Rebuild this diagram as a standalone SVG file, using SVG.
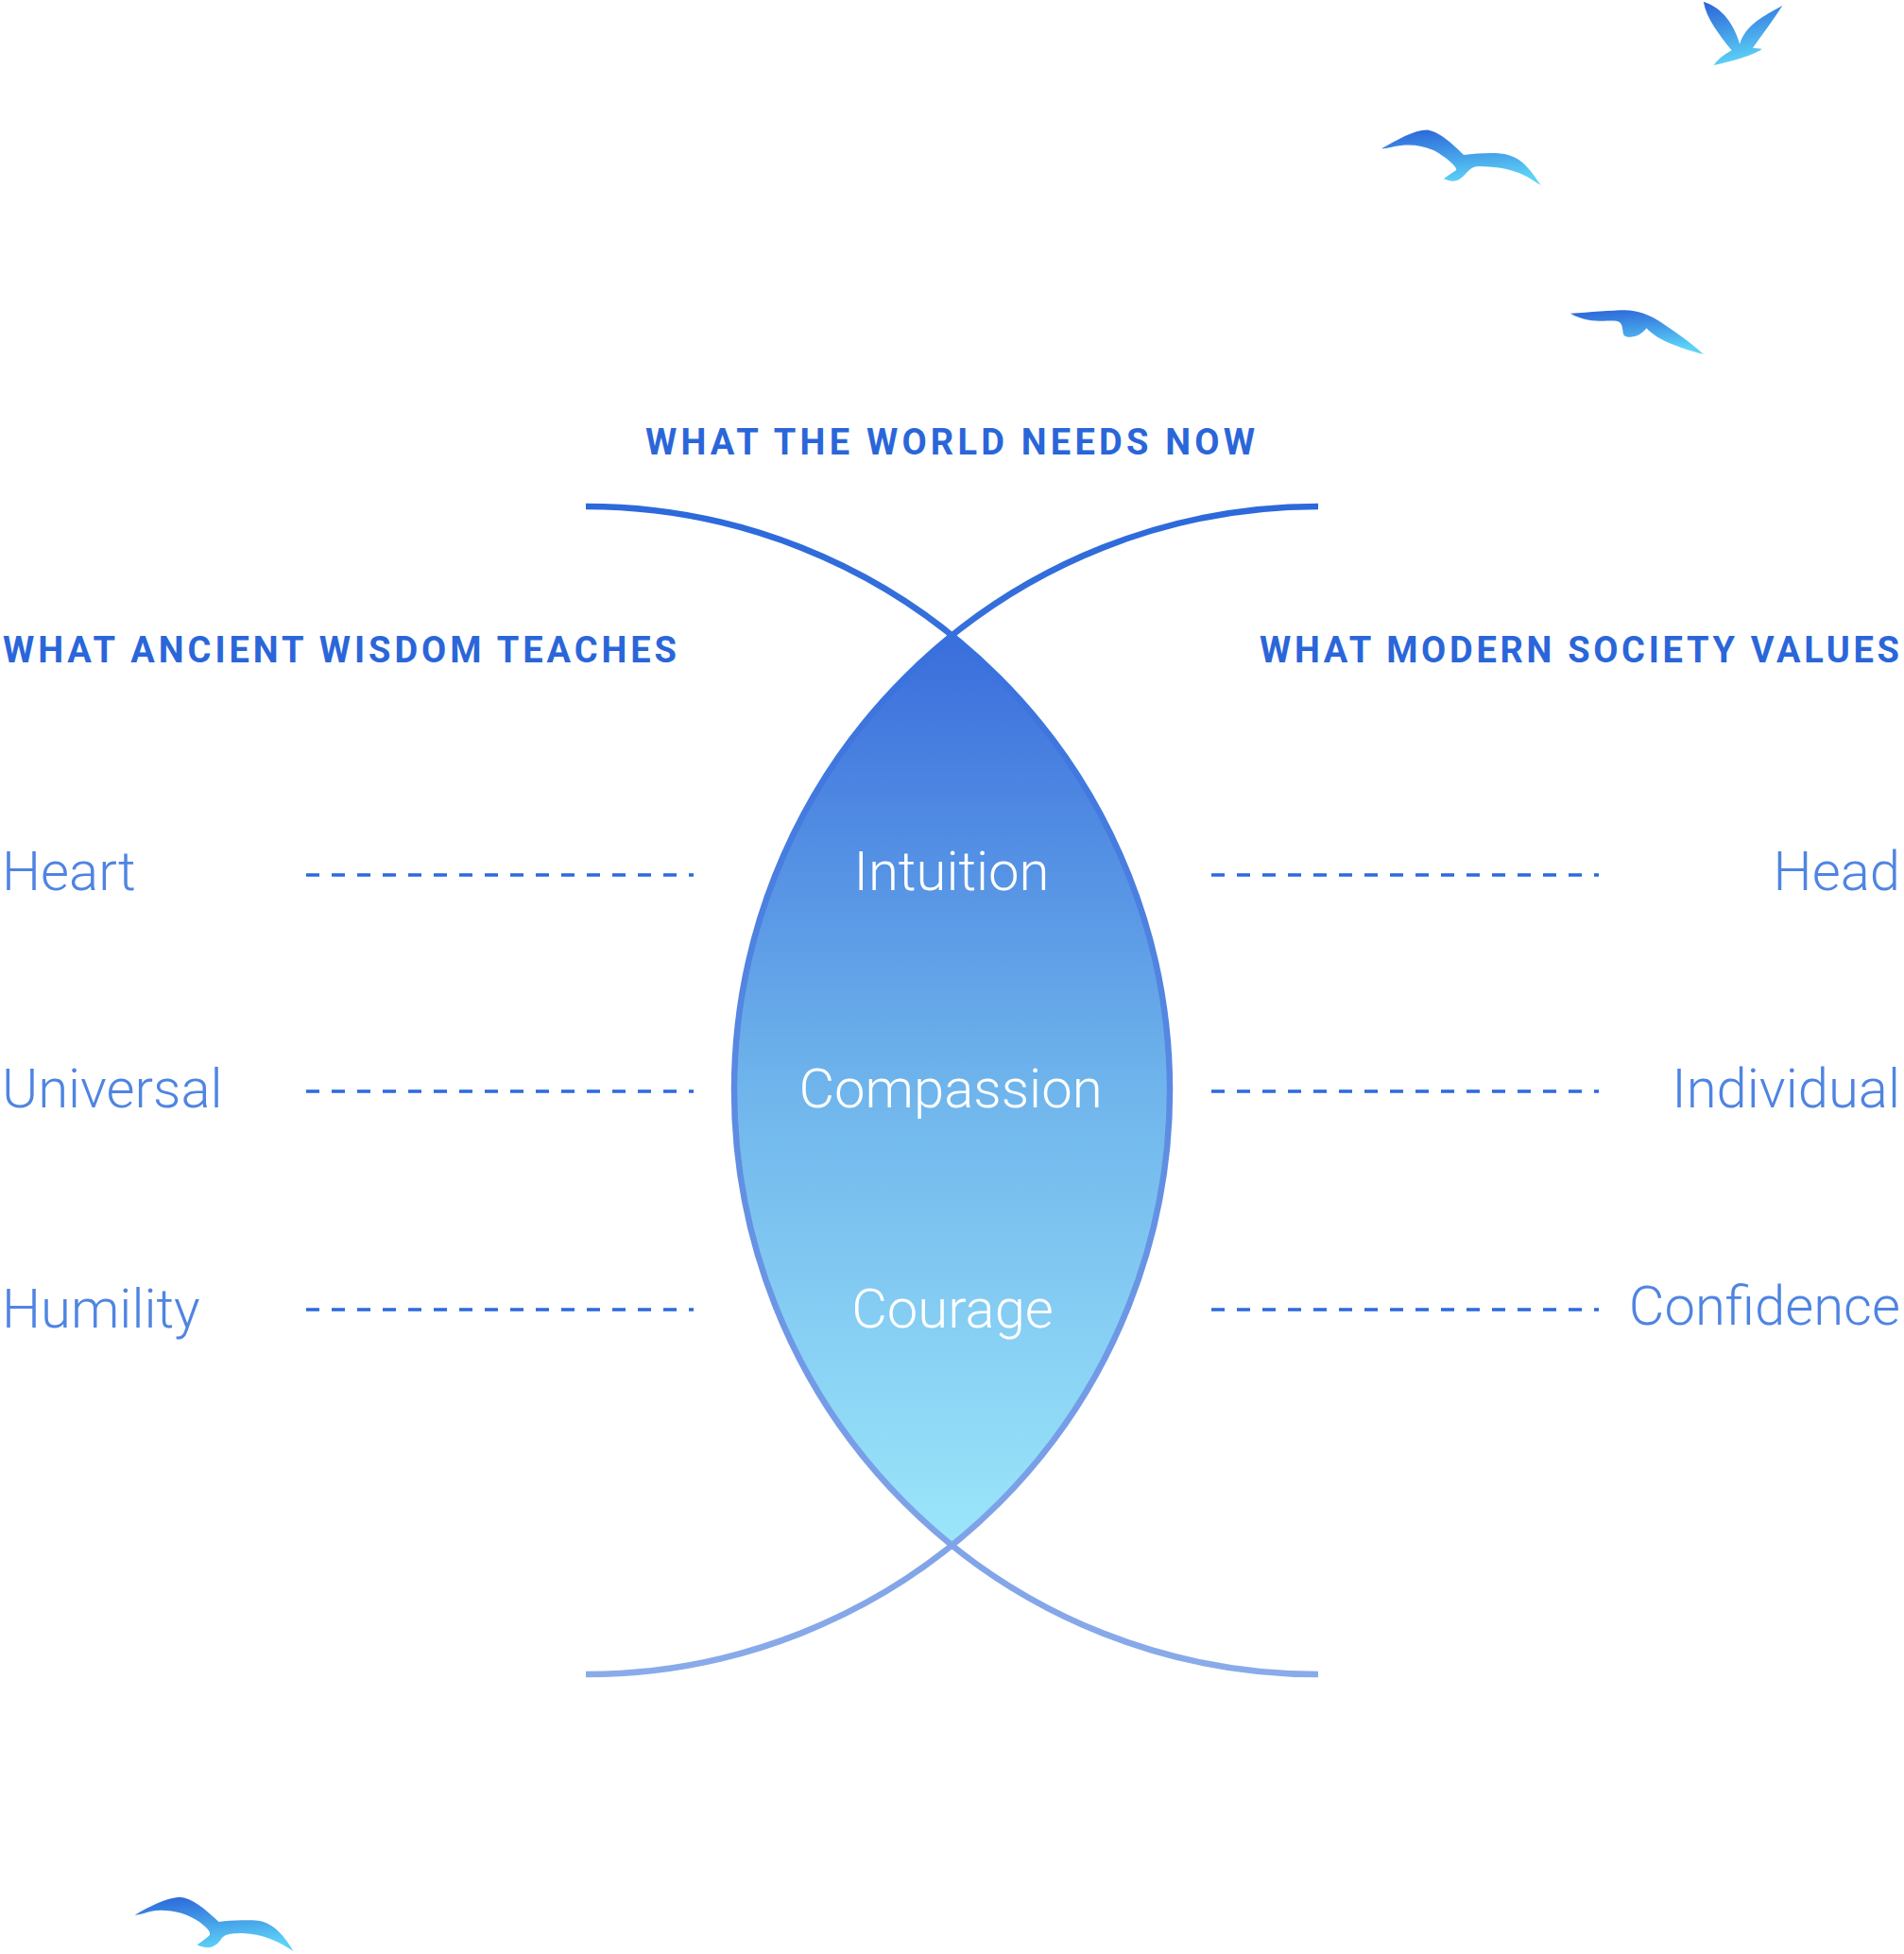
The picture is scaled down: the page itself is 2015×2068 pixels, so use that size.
<svg xmlns="http://www.w3.org/2000/svg" width="2015" height="2068" viewBox="0 0 2015 2068">
  <defs>
    <linearGradient id="lensFill" gradientUnits="userSpaceOnUse" x1="0" y1="672" x2="0" y2="1635">
      <stop offset="0" stop-color="#3a6ddc"/>
      <stop offset="0.5" stop-color="#6fb5ec"/>
      <stop offset="1" stop-color="#9ce6fa"/>
    </linearGradient>
    <linearGradient id="arcStroke" gradientUnits="userSpaceOnUse" x1="0" y1="536" x2="0" y2="1772">
      <stop offset="0" stop-color="#2c69db"/>
      <stop offset="1" stop-color="#8aabea"/>
    </linearGradient>
    <linearGradient id="birdFill" x1="0" y1="0" x2="0.25" y2="1">
      <stop offset="0" stop-color="#2a62d8"/>
      <stop offset="1" stop-color="#5cd2f6"/>
    </linearGradient>
    <style>
      .title { font-family: Roboto, "Liberation Sans", sans-serif; font-weight: 700; font-size: 38px; fill: #2a66d9; }
      .label { font-family: Roboto, "Liberation Sans", sans-serif; font-weight: 300; font-size: 58px; fill: #4f84e2; }
      .inner { font-family: Roboto, "Liberation Sans", sans-serif; font-weight: 300; font-size: 58px; fill: #ffffff; text-anchor: middle; }
      .dash { stroke: #2d6ade; stroke-width: 3.5; stroke-dasharray: 14 13; fill: none; }
      .arc { stroke: url(#arcStroke); stroke-width: 6.5; fill: none; }
      .bird { fill: url(#birdFill); }
    </style>
  </defs>

  <g id="lens">
    <path d="M 1007.5 672.6 A 618 618 0 0 1 1007.5 1635.4 A 618 618 0 0 1 1007.5 672.6 Z" fill="url(#lensFill)"/>
  </g>

  <g id="connectors">
    <path class="arc" d="M 620 536 A 618 618 0 0 1 620 1772"/>
    <path class="arc" d="M 1395 536 A 618 618 0 0 0 1395 1772"/>
    <line class="dash" x1="324" y1="926" x2="734" y2="926"/>
    <line class="dash" x1="324" y1="1155" x2="734" y2="1155"/>
    <line class="dash" x1="324" y1="1386" x2="734" y2="1386"/>
    <line class="dash" x1="1282" y1="926" x2="1692" y2="926"/>
    <line class="dash" x1="1282" y1="1155" x2="1692" y2="1155"/>
    <line class="dash" x1="1282" y1="1386" x2="1692" y2="1386"/>
  </g>

  <g id="title-top"><text class="title" x="683" y="481" textLength="645" lengthAdjust="spacing">WHAT THE WORLD NEEDS NOW</text></g>
  <g id="title-left"><text class="title" x="3" y="701" textLength="713" lengthAdjust="spacing">WHAT ANCIENT WISDOM TEACHES</text></g>
  <g id="title-right"><text class="title" x="1333" y="701" textLength="677" lengthAdjust="spacing">WHAT MODERN SOCIETY VALUES</text></g>

  <g id="node-heart"><text class="label" x="2" y="942">Heart</text></g>
  <g id="node-universal"><text class="label" x="2" y="1172">Universal</text></g>
  <g id="node-humility"><text class="label" x="2" y="1405">Humility</text></g>

  <g id="node-intuition"><text class="inner" x="1007" y="942">Intuition</text></g>
  <g id="node-compassion"><text class="inner" x="1006" y="1172">Compassion</text></g>
  <g id="node-courage"><text class="inner" x="1008" y="1405">Courage</text></g>

  <g id="node-head"><text class="label" x="2011" y="942" text-anchor="end">Head</text></g>
  <g id="node-individual"><text class="label" x="2011" y="1172" text-anchor="end">Individual</text></g>
  <g id="node-confidence"><text class="label" x="2011" y="1402" text-anchor="end">Confidence</text></g>

  <g id="birds">
    <g transform="translate(1400,0) scale(0.3922,0.3333)">
      <path class="bird" d="M1027 5 C1080 25 1110 80 1125 140 C1140 80 1190 50 1240 18 C1215 65 1185 110 1160 152 L1185 155 C1175 165 1140 185 1055 207 C1065 190 1080 175 1103 160 C1070 110 1035 60 1027 5 Z"/>
      <path class="bird" d="M158 472 C200 445 250 410 285 413 C320 420 360 470 380 492 C420 487 470 482 500 492 C540 505 560 540 588 588 C550 560 520 530 420 528 C400 530 395 540 385 552 C375 565 365 575 350 575 C340 574 330 570 326 568 C340 555 350 548 360 540 C362 530 340 505 300 478 C270 462 240 458 210 462 C185 466 170 472 158 472 Z"/>
      <path class="bird" d="M668 995 C720 992 780 985 815 985 C850 985 880 1000 905 1018 C940 1045 990 1085 1027 1125 C980 1110 940 1095 910 1075 C890 1062 880 1050 873 1042 C865 1055 850 1070 830 1070 C815 1070 810 1065 810 1055 C808 1040 808 1025 795 1020 C770 1015 720 1030 668 995 Z"/>
    </g>
    <g transform="translate(100,1950) scale(0.3333,0.3333)">
      <path class="bird" d="M128 230 C170 205 230 175 270 173 C310 175 350 210 395 252 C430 248 480 245 520 248 C570 255 605 300 632 345 C590 318 540 290 470 288 C420 288 410 295 400 310 C385 330 370 335 355 333 C340 332 330 328 326 325 C340 315 355 305 365 295 C370 285 360 275 345 262 C310 230 260 215 210 215 C175 215 150 230 128 230 Z"/>
    </g>
  </g>
</svg>
